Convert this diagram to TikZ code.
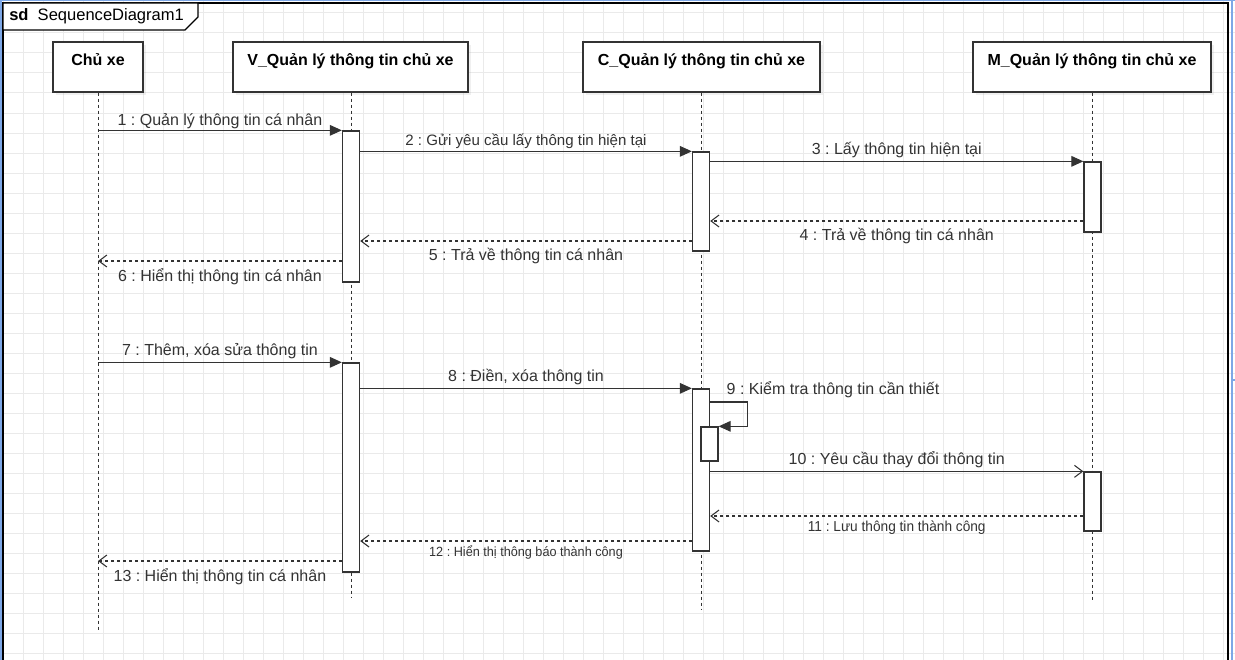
\documentclass[tikz,border=0pt]{standalone}
\usepackage{fontspec}
\setmainfont{Liberation Sans}
\frenchspacing
\usetikzlibrary{arrows.meta,shadows,positioning}

\definecolor{gridgray}{HTML}{EAEAEA}
\definecolor{pageblue}{HTML}{7DA7E6}
\definecolor{linegray}{HTML}{333333}

\tikzset{
  gridline/.style={draw=gridgray, line width=0.75pt},
  pageline/.style={draw=pageblue, line width=1.2pt},
  frame/.style={draw=black, line width=0.8pt},
  head/.style={draw=linegray, line width=1pt, fill=white, inner ysep=4.5pt,
    text height=12.75pt, text depth=15.75pt, minimum height=37.5pt,
    font=\bfseries\fontsize{12}{14}\selectfont,
    drop shadow={opacity=0.12, shadow xshift=2.5pt, shadow yshift=-2.5pt}},
  lifeline/.style={draw=linegray, line width=0.7pt, dash pattern=on 2.25pt off 2.25pt},
  act/.style={draw=linegray, line width=1pt, fill=white, minimum width=12.75pt, inner sep=0pt},
  call/.style={draw=linegray, line width=0.8pt, -{Triangle[length=9pt,width=8pt]}},
  send/.style={draw=linegray, line width=0.8pt, -{Straight Barb[length=6pt,width=9pt]}},
  reply/.style={draw=linegray, line width=0.8pt, dash pattern=on 2.25pt off 2.25pt,
    -{Straight Barb[length=6pt,width=9pt]}},
  lbl/.style={text=linegray, font=\fontsize{12}{14}\selectfont, inner sep=2pt},
  smalllbl/.style={text=linegray, font=\fontsize{11.3}{13}\selectfont, inner sep=2pt},
  tinylbl/.style={text=linegray, font=\fontsize{10}{12}\selectfont, inner sep=2pt, xscale=0.95}
}

\begin{document}
\begin{tikzpicture}[x=0.75pt, y=-0.75pt]
\useasboundingbox (0,0) rectangle (1235,660);

% background grid
\foreach \gx in {3,23,...,1233} \draw[gridline] (\gx,0) -- (\gx,660);
\foreach \gy in {13,33,...,653} \draw[gridline] (0,\gy) -- (1235,\gy);

% page border
\draw[pageline] (1,0) -- (1,660);
\draw[pageline] (0,0.5) -- (1235,0.5);
\draw[pageline] (1232,0) -- (1232,660);
\draw[pageline] (1232,380) -- (1235,380);

% frame
\draw[frame] (3,680) -- (3,3) -- (1228,3) -- (1228,680);
\draw[frame, fill=white] (3,3) -- (198,3) -- (198,17) -- (185,30) -- (3,30) -- cycle;
\node[anchor=west, font=\fontsize{12.4}{14}\selectfont, inner sep=0pt] (tab) at (9,16) {\textbf{sd}\ \ SequenceDiagram1};

% message rows
\coordinate (m4) at (0,221);
\coordinate (m5) at (0,241);
\coordinate (m6) at (0,261);
\coordinate (m9) at (0,402);
\coordinate (m11) at (0,516);
\coordinate (m12) at (0,541);
\coordinate (m13) at (0,561);

% lifeline heads
\node[head, minimum width=67.5pt] (chu) at (98,67) {Chủ xe};
\node[head, minimum width=176.25pt] (view) at (350.5,67) {V\_Quản lý thông tin chủ xe};
\node[head, minimum width=177.75pt] (ctrl) at (701.5,67) {C\_Quản lý thông tin chủ xe};
\node[head, minimum width=178.5pt] (model) at (1092,67) {M\_Quản lý thông tin chủ xe};

% lifeline ends
\coordinate (chuend) at (98,630);
\coordinate (viewend) at (351,598);
\coordinate (ctrlend) at (701,610);
\coordinate (modelend) at (1092,600);

\draw[lifeline] (chu.south) -- (chuend);
\draw[lifeline] (view.south -| viewend) -- (viewend);
\draw[lifeline] (ctrl.south -| ctrlend) -- (ctrlend);
\draw[lifeline] (model.south -| modelend) -- (modelend);

% activations
\node[act, minimum height=113.25pt] (va1) at (351,206.5) {};
\node[act, minimum height=74.25pt] (ca1) at (701,201.5) {};
\node[act, minimum height=52.5pt] (ma1) at (1092.5,197) {};
\node[act, minimum height=156.75pt] (va2) at (351,467.5) {};
\node[act, minimum height=121.5pt] (ca2) at (701,470) {};
\node[act, minimum height=25.5pt] (cn) at (709.5,444) {};
\node[act, minimum height=44.25pt] (ma2) at (1092.5,501.5) {};

% first exchange
\draw[call] (chu.south |- va1.north west) -- (va1.north west)
  node[lbl, midway, above=-1.5pt] {1 : Quản lý thông tin cá nhân};
\draw[call] (va1.east |- ca1.north) -- (ca1.north west)
  node[smalllbl, midway, above] {2 : Gửi yêu cầu lấy thông tin hiện tại};
\draw[call] (ca1.east |- ma1.north) -- (ma1.north west)
  node[lbl, midway, above] {3 : Lấy thông tin hiện tại};
\draw[reply] (ma1.west |- m4) -- (ca1.east |- m4)
  node[lbl, midway, below=3pt] {4 : Trả về thông tin cá nhân};
\draw[reply] (ca1.west |- m5) -- (va1.east |- m5)
  node[lbl, midway, below=3pt] {5 : Trả về thông tin cá nhân};
\draw[reply] (va1.west |- m6) -- (chuend |- m6)
  node[lbl, midway, below=3pt] {6 : Hiển thị thông tin cá nhân};

% second exchange
\draw[call] (chu.south |- va2.north west) -- (va2.north west)
  node[lbl, midway, above] {7 : Thêm, xóa sửa thông tin};
\draw[call] (va2.east |- ca2.north) -- (ca2.north west)
  node[lbl, midway, above] {8 : Điền, xóa thông tin};
\draw[call] (ca2.east |- m9) node[lbl, anchor=south west, xshift=10pt, yshift=1pt] {9 : Kiểm tra thông tin cần thiết}
  -- ++(37,0) |- (cn.north east);
\draw[send] (ca2.east |- ma2.north) -- (ma2.north west)
  node[lbl, midway, above] {10 : Yêu cầu thay đổi thông tin};
\draw[reply] (ma2.west |- m11) -- (ca2.east |- m11)
  node[tinylbl, midway, below=1.5pt, font=\fontsize{10.8}{12}\selectfont] {11 : Lưu thông tin thành công};
\draw[reply] (ca2.west |- m12) -- (va2.east |- m12)
  node[tinylbl, midway, below=1.5pt] {12 : Hiển thị thông báo thành công};
\draw[reply] (va2.west |- m13) -- (chuend |- m13)
  node[lbl, midway, below=3pt] {13 : Hiển thị thông tin cá nhân};

\end{tikzpicture}
\end{document}
